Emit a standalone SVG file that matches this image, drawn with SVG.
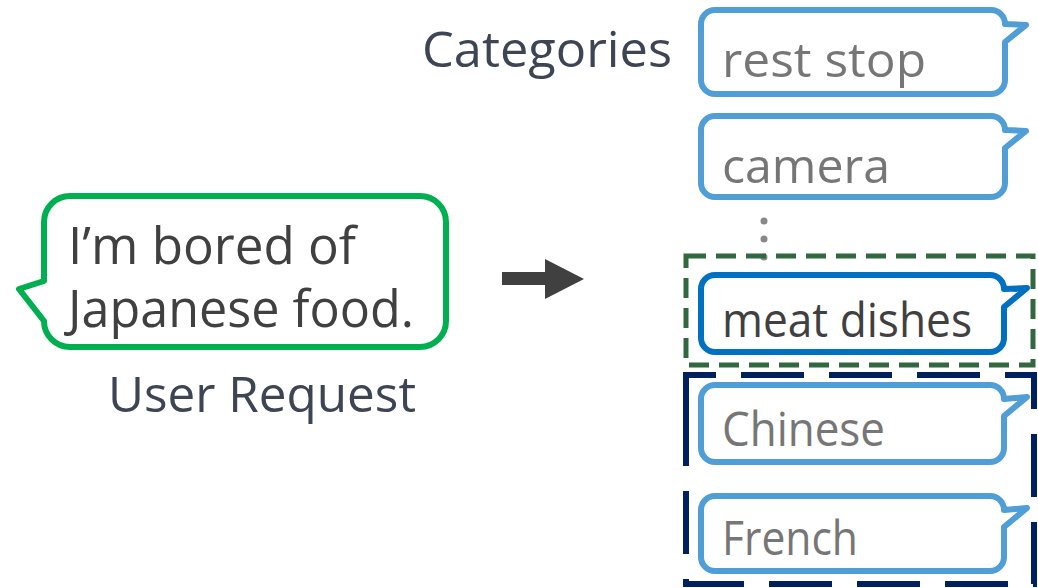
<svg xmlns="http://www.w3.org/2000/svg" width="1038" height="588" viewBox="0 0 1038 588">
<style>
.lbl{font-family:"Open Sans","Noto Sans",sans-serif;font-size:50px;fill:#3D4453}
.cat{font-family:"Open Sans","Noto Sans",sans-serif;font-size:48px;fill:#767676}
.sel{fill:#404040}
.req{font-family:"Open Sans","Noto Sans",sans-serif;font-size:51px;fill:#404040}
.bub{fill:#fff;stroke:#4F9ED6;stroke-width:6;stroke-linejoin:round}
.bubsel{fill:#fff;stroke:#0070C0;stroke-width:6;stroke-linejoin:round}
</style>
<rect width="1038" height="588" fill="#fff"/>
<g id="user-request">
<path d="M70 196 H420 A26 26 0 0 1 446 222 V321 A26 26 0 0 1 420 347 H70 A26 26 0 0 1 44 321 L19 289 L44 281 V222 A26 26 0 0 1 70 196 Z" fill="#fff" stroke="#00B050" stroke-width="6" stroke-linejoin="round"/>
<text class="req" x="68" y="264" textLength="288" lengthAdjust="spacingAndGlyphs">I’m bored of</text>
<text class="req" x="68" y="327" textLength="346" lengthAdjust="spacingAndGlyphs">Japanese food.</text>
<text class="lbl" x="108" y="412" textLength="308" lengthAdjust="spacingAndGlyphs">User Request</text>
</g>
<g id="connectors">
<path d="M502 272 H545 V259 L584 279 L545 299 V285 H502 Z" fill="#404040"/>
</g>
<text class="lbl" x="422" y="67" textLength="250" lengthAdjust="spacingAndGlyphs">Categories</text>
<g id="cat-rest-stop">
<path class="bub" d="M715 10 H991 A14 14 0 0 1 1005 24 L1026 25 L1005 42 V80 A14 14 0 0 1 991 94 H715 A14 14 0 0 1 701 80 V24 A14 14 0 0 1 715 10 Z"/>
<text class="cat" x="722" y="77" textLength="204" lengthAdjust="spacingAndGlyphs">rest stop</text>
</g>
<g id="cat-camera">
<path class="bub" d="M715 116 H991 A14 14 0 0 1 1005 130 L1026 131 L1005 148 V183 A14 14 0 0 1 991 197 H715 A14 14 0 0 1 701 183 V130 A14 14 0 0 1 715 116 Z"/>
<text class="cat" x="722" y="183" textLength="168" lengthAdjust="spacingAndGlyphs">camera</text>
</g>
<g id="ellipsis" fill="#888">
<circle cx="764" cy="221" r="3.5"/>
<circle cx="764" cy="239" r="3.5"/>
<circle cx="764" cy="257" r="3.5"/>
</g>
<g id="selected-group">
<rect x="686" y="256" width="347" height="109" fill="none" stroke="#31683F" stroke-width="5" stroke-dasharray="20 10"/>
</g>
<g id="cat-meat-dishes">
<path class="bubsel" d="M715 275 H990 A14 14 0 0 1 1004 289 L1027 288 L1004 307 V338 A14 14 0 0 1 990 352 H715 A14 14 0 0 1 701 338 V289 A14 14 0 0 1 715 275 Z"/>
<text class="cat sel" x="722" y="337" textLength="250" lengthAdjust="spacingAndGlyphs">meat dishes</text>
</g>
<g id="excluded-group">
<path d="M686 408 V375 H1034 V584 H686 Z" fill="none" stroke="#002060" stroke-width="6" stroke-dasharray="63 25"/>
</g>
<g id="cat-chinese">
<path class="bub" d="M715 385 H990 A14 14 0 0 1 1004 399 L1027 397 L1004 416 V448 A14 14 0 0 1 990 462 H715 A14 14 0 0 1 701 448 V399 A14 14 0 0 1 715 385 Z"/>
<text class="cat" x="722" y="446" textLength="163" lengthAdjust="spacingAndGlyphs">Chinese</text>
</g>
<g id="cat-french">
<path class="bub" d="M715 496 H990 A14 14 0 0 1 1004 510 L1027 508 L1004 527 V557 A14 14 0 0 1 990 571 H715 A14 14 0 0 1 701 557 V510 A14 14 0 0 1 715 496 Z"/>
<text class="cat" x="722" y="555" textLength="136" lengthAdjust="spacingAndGlyphs">French</text>
</g>
</svg>
